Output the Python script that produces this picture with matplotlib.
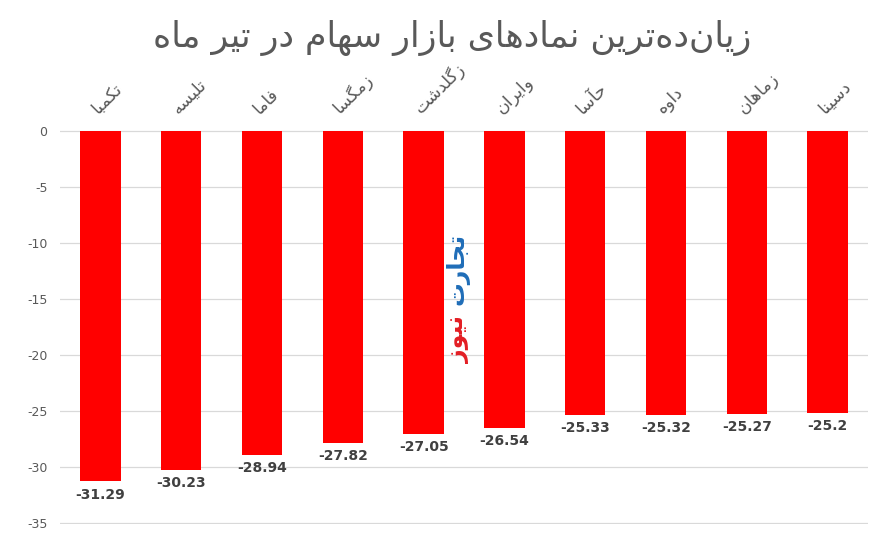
import matplotlib
matplotlib.use("Agg")
import matplotlib.pyplot as plt

symbols = ["تکمبا", "تلیسه", "فاما", "زمگسا", "زگلدشت", "وایران", "حآسا", "داوه", "زماهان", "دسینا"]
changes = [-31.29, -30.23, -28.94, -27.82, -27.05, -26.54, -25.33, -25.32, -25.27, -25.2]
title = "زیان\u200cده\u200cترین نمادهای بازار سهام در تیر ماه"
yticks = [0, -5, -10, -15, -20, -25, -30, -35]

# matplotlib has no arabic shaping, so pick presentation forms by hand
# (isolated, final, initial, medial); two entries = joins only on the right
forms = {
    "ا": (0xFE8D, 0xFE8E), "آ": (0xFE81, 0xFE82),
    "د": (0xFEA9, 0xFEAA), "ر": (0xFEAD, 0xFEAE),
    "ز": (0xFEAF, 0xFEB0), "و": (0xFEED, 0xFEEE),
    "ب": (0xFE8F, 0xFE90, 0xFE91, 0xFE92), "ت": (0xFE95, 0xFE96, 0xFE97, 0xFE98),
    "ح": (0xFEA1, 0xFEA2, 0xFEA3, 0xFEA4), "س": (0xFEB1, 0xFEB2, 0xFEB3, 0xFEB4),
    "ش": (0xFEB5, 0xFEB6, 0xFEB7, 0xFEB8), "ف": (0xFED1, 0xFED2, 0xFED3, 0xFED4),
    "ل": (0xFEDD, 0xFEDE, 0xFEDF, 0xFEE0), "م": (0xFEE1, 0xFEE2, 0xFEE3, 0xFEE4),
    "ن": (0xFEE5, 0xFEE6, 0xFEE7, 0xFEE8), "ه": (0xFEE9, 0xFEEA, 0xFEEB, 0xFEEC),
    "ی": (0xFBFC, 0xFBFD, 0xFBFE, 0xFBFF), "ک": (0xFB8E, 0xFB8F, 0xFB90, 0xFB91),
    "گ": (0xFB92, 0xFB93, 0xFB94, 0xFB95), "ج": (0xFE9D, 0xFE9E, 0xFE9F, 0xFEA0),
}


def fa(text):
    out = []
    for i, ch in enumerate(text):
        if ch not in forms:
            if ch != "\u200c":
                out.append(ch)
            continue
        prev = text[i - 1] if i > 0 else ""
        nxt = text[i + 1] if i + 1 < len(text) else ""
        join_prev = prev in forms and len(forms[prev]) == 4
        join_next = len(forms[ch]) == 4 and nxt in forms
        f = forms[ch]
        if join_prev and join_next:
            code = f[3]
        elif join_prev:
            code = f[1]
        elif join_next:
            code = f[2]
        else:
            code = f[0]
        out.append(chr(code))
    return "".join(reversed(out))


plt.rcParams["font.family"] = ["DejaVu Sans"]

fig = plt.figure(figsize=(8.96, 5.57), dpi=100)
ax = fig.add_axes([0.067, 0.0591, 0.9018, 0.7077])

x = range(len(symbols))
ax.bar(x, changes, width=0.5, color="#ff0000", zorder=3)

for i, v in zip(x, changes):
    ax.text(i, v - 0.55, f"{v:g}", ha="center", va="top", fontsize=10,
            fontweight="bold", color="#404040", zorder=4)

ax.set_xlim(-0.5, len(symbols) - 0.5)
ax.set_ylim(-35.1, 0.1)
ax.set_yticks(yticks)
ax.set_yticklabels([str(t) for t in yticks])
ax.yaxis.grid(True, color="#d9d9d9", linewidth=0.9, zorder=0)
ax.tick_params(axis="y", length=0, labelsize=9, labelcolor="#595959", pad=9)

ax.xaxis.tick_top()
ax.set_xticks(list(x))
ax.set_xticklabels([fa(s) for s in symbols], rotation=45, ha="left", va="bottom",
                   rotation_mode="anchor", fontsize=12.5, color="#595959")
ax.tick_params(axis="x", length=0, pad=9)

for side in ["left", "right", "top", "bottom"]:
    ax.spines[side].set_visible(False)

fig.text(0.505, 0.932, fa(title), ha="center", va="center", fontsize=25, color="#595959")

# watermark
fig.text(0.511, 0.518, fa("تجارت"), rotation=90, ha="center", va="center",
         fontsize=17, fontweight="bold", color="#1f6db8", zorder=5)
fig.text(0.511, 0.39, fa("نیوز"), rotation=90, ha="center", va="center",
         fontsize=17, fontweight="bold", color="#e31e24", zorder=5)

fig.savefig("out.png", dpi=100)
